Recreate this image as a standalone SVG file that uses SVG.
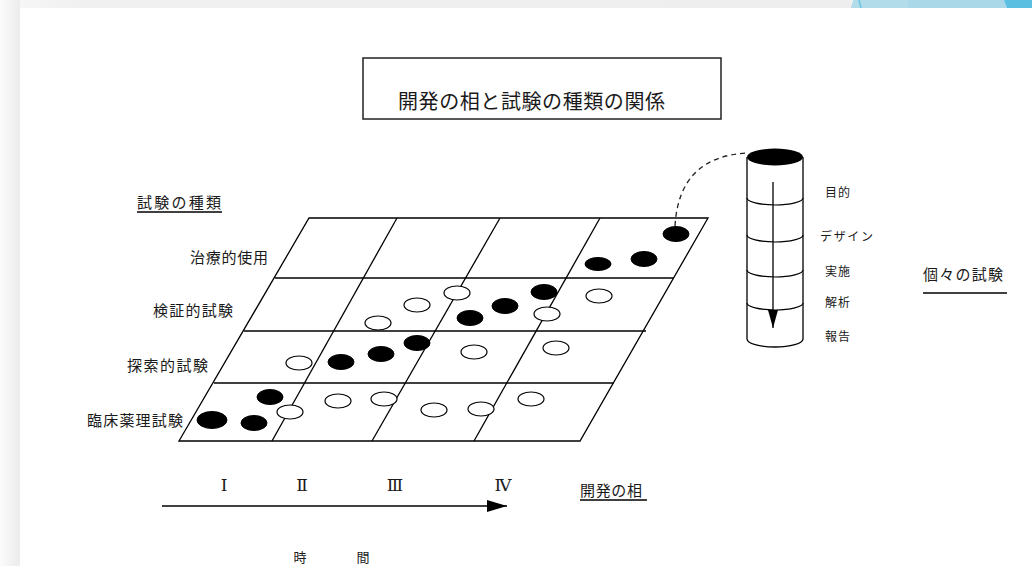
<svg xmlns="http://www.w3.org/2000/svg" width="1032" height="566" viewBox="0 0 1032 566">
<defs>
<linearGradient id="lg" x1="0" y1="0" x2="1" y2="0">
<stop offset="0" stop-color="#fbfbfb"/><stop offset="0.5" stop-color="#f3f3f3"/><stop offset="1" stop-color="#ececec"/>
</linearGradient>
<linearGradient id="tg" x1="0" y1="0" x2="1" y2="0">
<stop offset="0" stop-color="#f8f8f8"/><stop offset="0.1" stop-color="#f0f0f0"/><stop offset="1" stop-color="#eeeeee"/>
</linearGradient>
<marker id="ah" markerWidth="20" markerHeight="12" refX="20" refY="6" orient="auto" markerUnits="userSpaceOnUse">
<path d="M0,0 L20,6 L0,12 Z" fill="#000"/>
</marker>
<marker id="ahv" markerWidth="18" markerHeight="10" refX="18" refY="5" orient="auto" markerUnits="userSpaceOnUse">
<path d="M0,0 L18,5 L0,10 Z" fill="#000"/>
</marker>
</defs>
<style>
.t{font-family:"Noto Sans CJK JP","Noto Sans CJK SC",sans-serif;fill:#1a1a1a}
.g{stroke:#000;stroke-width:1.3;fill:none}
.b{fill:#000;stroke:#000;stroke-width:1}
.w{fill:#fff;stroke:#000;stroke-width:1.2}
.r{font-family:"Liberation Serif","DejaVu Serif","Noto Sans CJK JP",serif;font-size:17px;fill:#1a1a1a;text-anchor:middle}
</style>
<rect width="1032" height="566" fill="#fff"/>
<g id="background">
<rect x="0" y="0" width="852" height="8" fill="url(#tg)"/>
<rect x="0" y="0" width="20" height="566" fill="url(#lg)"/>
<polygon points="853,0 1004,0 1007,8 851,8" fill="#b3dcea"/>
<polygon points="908,0 1004,0 1007,8 908,8" fill="#aad8e9"/>
<line x1="859" y1="0" x2="861" y2="8" stroke="#6cc3e2" stroke-width="1.5"/>
<polygon points="1004,0 1032,0 1032,8 1007,8" fill="#5bbfe2"/>
</g>
<g id="title">
<rect x="363" y="58" width="358" height="61" fill="#fff" stroke="#222" stroke-width="1.5"/>
<text class="t" x="398" y="109" font-size="20" textLength="267">開発の相と試験の種類の関係</text>
</g>
<g id="axis-labels">
<text class="t" x="137" y="207.5" font-size="15" textLength="84">試験の種類</text>
<line x1="137" y1="212" x2="222" y2="212" stroke="#000" stroke-width="1.5"/>
<text class="t" x="190" y="262.5" font-size="15" textLength="78">治療的使用</text>
<text class="t" x="153" y="315.5" font-size="15" textLength="80">検証的試験</text>
<text class="t" x="127" y="370.5" font-size="15" textLength="81">探索的試験</text>
<text class="t" x="87" y="425.5" font-size="15" textLength="96">臨床薬理試験</text>
</g>
<g id="grid">
<polygon class="g" points="309,218 708,218 580,441 179,441"/>
<line class="g" x1="275" y1="278" x2="674" y2="278"/>
<line class="g" x1="244" y1="331" x2="646" y2="331"/>
<line class="g" x1="214" y1="383" x2="614" y2="383"/>
<line class="g" x1="397" y1="218" x2="272" y2="441"/>
<line class="g" x1="500" y1="218" x2="372" y2="441"/>
<line class="g" x1="600" y1="218" x2="474" y2="441"/>
</g>
<g id="trials">
<ellipse class="b" cx="212" cy="420" rx="15" ry="8.5"/>
<ellipse class="b" cx="254" cy="423" rx="13" ry="7.5"/>
<ellipse class="b" cx="270" cy="397" rx="13" ry="7.5"/>
<ellipse class="w" cx="290" cy="412" rx="13" ry="7"/>
<ellipse class="w" cx="338" cy="401" rx="13" ry="7"/>
<ellipse class="w" cx="384" cy="399" rx="13" ry="7"/>
<ellipse class="w" cx="434" cy="410" rx="13" ry="7"/>
<ellipse class="w" cx="481" cy="409" rx="13" ry="7"/>
<ellipse class="w" cx="531" cy="399" rx="13" ry="7"/>
<ellipse class="w" cx="299" cy="363" rx="13" ry="7"/>
<ellipse class="b" cx="341" cy="362" rx="13" ry="7.5"/>
<ellipse class="b" cx="381" cy="354" rx="13" ry="7.5"/>
<ellipse class="b" cx="417" cy="343" rx="13" ry="7.5"/>
<ellipse class="w" cx="474" cy="352" rx="13" ry="7"/>
<ellipse class="w" cx="556" cy="348" rx="13" ry="7"/>
<ellipse class="w" cx="378" cy="323" rx="13" ry="7"/>
<ellipse class="w" cx="417" cy="305" rx="13" ry="7"/>
<ellipse class="w" cx="457" cy="293" rx="13" ry="7"/>
<ellipse class="b" cx="470" cy="318" rx="13" ry="7.5"/>
<ellipse class="b" cx="505" cy="306" rx="13" ry="7.5"/>
<ellipse class="b" cx="544" cy="292" rx="13" ry="7.5"/>
<ellipse class="w" cx="547" cy="314" rx="13" ry="7"/>
<ellipse class="w" cx="599" cy="296" rx="13" ry="7"/>
<ellipse class="b" cx="598" cy="264" rx="13" ry="6.5"/>
<ellipse class="b" cx="644" cy="259" rx="13" ry="7.5"/>
<ellipse class="b" cx="676" cy="234" rx="13" ry="7.5"/>
</g>
<g id="connectors">
<path d="M675,226 Q679,156 748,153" fill="none" stroke="#222" stroke-width="1.3" stroke-dasharray="5,4"/>
<line x1="162" y1="506" x2="507" y2="506" stroke="#000" stroke-width="1.5" marker-end="url(#ah)"/>
</g>
<g id="cylinder">
<path d="M747,157 L747,339 A28,8 0 0 0 803,339 L803,157" fill="#fff" stroke="#000" stroke-width="1.3"/>
<ellipse cx="775" cy="157" rx="28" ry="8.5" fill="#000"/>
<path d="M747,198 A28,7 0 0 0 803,198 M747,235 A28,7 0 0 0 803,235 M747,270 A28,7 0 0 0 803,270 M747,303 A28,7 0 0 0 803,303" fill="none" stroke="#000" stroke-width="1.2"/>
<line x1="773" y1="182" x2="773" y2="328" stroke="#000" stroke-width="1.3" marker-end="url(#ahv)"/>
<text class="t" x="825" y="197" font-size="12" textLength="25">目的</text>
<text class="t" x="820" y="241" font-size="12" textLength="53">デザイン</text>
<text class="t" x="825" y="276" font-size="12" textLength="25">実施</text>
<text class="t" x="825" y="307" font-size="12" textLength="25">解析</text>
<text class="t" x="825" y="341" font-size="12" textLength="25">報告</text>
</g>
<g id="individual">
<text class="t" x="923" y="279.5" font-size="15" textLength="80">個々の試験</text>
<line x1="923" y1="293" x2="1007" y2="293" stroke="#000" stroke-width="1.5"/>
</g>
<g id="phases">
<text class="r" x="224" y="491">Ⅰ</text>
<text class="r" x="302" y="491">Ⅱ</text>
<text class="r" x="395" y="491">Ⅲ</text>
<text class="r" x="503" y="491">Ⅳ</text>
<text class="t" x="580" y="496" font-size="15" textLength="62">開発の相</text>
<line x1="580" y1="500" x2="647" y2="500" stroke="#000" stroke-width="1.5"/>
<text class="t" x="300" y="562" font-size="13" text-anchor="middle">時</text>
<text class="t" x="363" y="562" font-size="13" text-anchor="middle">間</text>
</g>
</svg>
